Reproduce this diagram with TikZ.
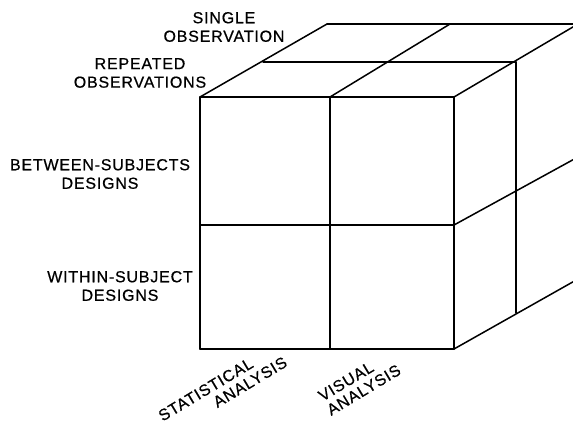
\documentclass[tikz,border=0pt]{standalone}
\usepackage{fontspec}
\setmainfont{Liberation Sans}[LetterSpace=5,FakeBold=0.6]
\begin{document}
\begin{tikzpicture}[x=1pt,y=-1pt,
  edge/.style={line width=1.5pt, line cap=round, line join=round},
  lab/.style={font=\fontsize{16}{18.5}\selectfont, align=center, inner sep=0pt},
  rlab/.style={font=\fontsize{16}{16.5}\selectfont, align=left, inner sep=0pt, rotate=31, anchor=base west}]
\useasboundingbox (0,0) rectangle (573,421);
\fill[white] (0,0) rectangle (573,421);
% front face
\coordinate (F00) at (200,97);  \coordinate (F10) at (330,97);  \coordinate (F20) at (454,97);
\coordinate (F01) at (200,225); \coordinate (F11) at (330,225); \coordinate (F21) at (454,225);
\coordinate (F02) at (200,349); \coordinate (F12) at (330,349); \coordinate (F22) at (454,349);
% middle depth layer
\coordinate (M0) at (263,62); \coordinate (M1) at (390,62); \coordinate (M2) at (516,62);
\coordinate (M21) at (516,190); \coordinate (M22) at (516,313);
% back layer
\coordinate (B0) at (327,24); \coordinate (B1) at (450,24); \coordinate (B2) at (578,24);
\coordinate (B21) at (578,157); \coordinate (B22) at (578,279);
\begin{scope}
\clip (0,0) rectangle (573,421);
% front face grid
\draw[edge] (F00) -- (F20) (F01) -- (F21) (F02) -- (F22);
\draw[edge] (F00) -- (F02) (F10) -- (F12) (F20) -- (F22);
% top face
\draw[edge] (M0) -- (M2) (B0) -- (B2);
\draw[edge] (F00) -- (B0) (F10) -- (B1) (F20) -- (B2);
% right face
\draw[edge] (F21) -- (B21) (F22) -- (B22);
\draw[edge] (M2) -- (M22) (B2) -- (B22);
\end{scope}
% labels
\node[lab] (single) at (224,27) {SINGLE\\OBSERVATION};
\node[lab] (repeated) at (140,73) {REPEATED\\OBSERVATIONS};
\node[lab] (between) at (100,174) {BETWEEN-SUBJECTS\\DESIGNS};
\node[lab] (within) at (120,286) {WITHIN-SUBJECT\\DESIGNS};
\node[rlab] (stat) at (171,436) {STATISTICAL\\\hspace*{54pt}ANALYSIS};
\node[rlab] (visual) at (331,416) {VISUAL\\ANALYSIS};
\end{tikzpicture}
\end{document}
